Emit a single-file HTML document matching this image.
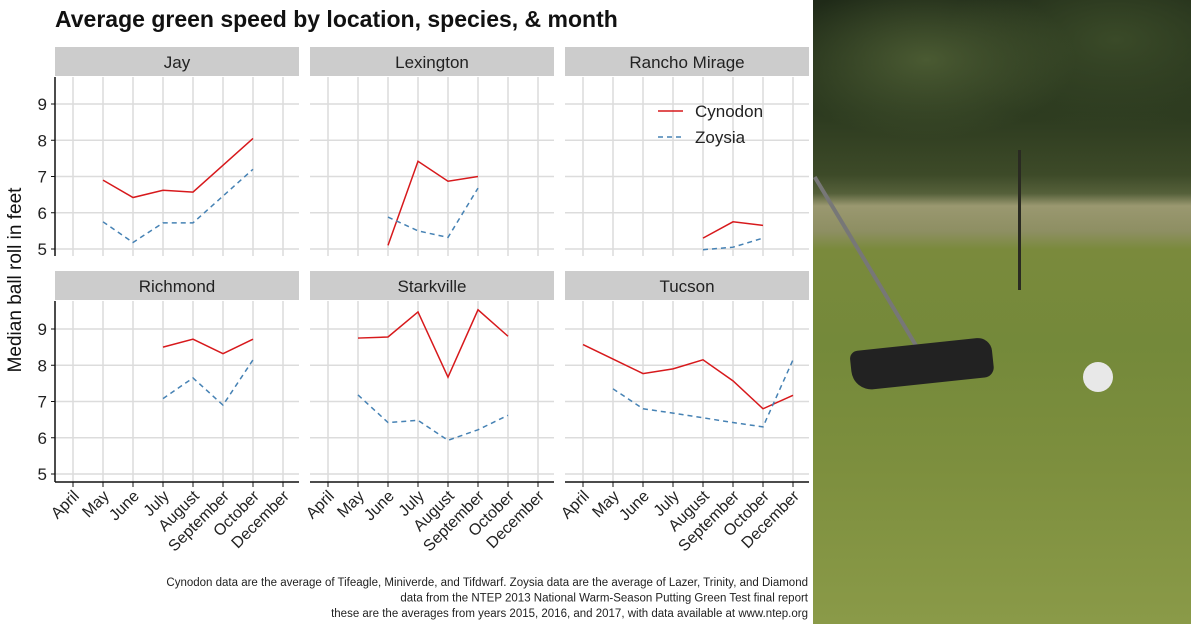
<!DOCTYPE html>
<html><head><meta charset="utf-8"><style>
body{margin:0;width:1191px;height:624px;overflow:hidden;background:#fff;font-family:"Liberation Sans",sans-serif}
#wrap{position:relative;width:1191px;height:624px}
svg{position:absolute;left:0;top:0}
</style></head><body><div id="wrap">
<div style="position:absolute;left:813px;top:0;width:378px;height:624px;background:linear-gradient(180deg,#1f2a18 0%,#2c3a1f 18%,#3d4a28 28%,#55603a 31%,#9a9870 33%,#8e8f63 37%,#7a8a3c 40%,#74893a 55%,#7d8f3e 75%,#8a9a48 100%)">
<div style="position:absolute;left:0;top:0;width:378px;height:200px;background:radial-gradient(ellipse at 30% 30%,#4a5a32 0%,rgba(0,0,0,0) 40%),radial-gradient(ellipse at 80% 20%,#3a4a28 0%,rgba(0,0,0,0) 40%)"></div>
<div style="position:absolute;left:205px;top:150px;width:3px;height:140px;background:#2a2a22"></div>
<div style="position:absolute;left:0;top:178px;width:4px;height:200px;background:#777;transform-origin:0 0;transform:rotate(-31deg)"></div>
<div style="position:absolute;left:38px;top:344px;width:142px;height:40px;background:#222;border-radius:8px 14px 10px 20px;transform:rotate(-6deg)"></div>
<div style="position:absolute;left:270px;top:362px;width:30px;height:30px;border-radius:50%;background:#e8e8e8"></div>
</div>
<svg id="chart" width="813" height="624"></svg>
</div>
<script>
const months=["April","May","June","July","August","September","October","December"];
const panels=["Jay","Lexington","Rancho Mirage","Richmond","Starkville","Tucson"];
const yTicks=[5,6,7,8,9];
const cynJay=[null,6.9,6.42,6.62,6.57,null,8.05,null];
const zoyJay=[null,5.75,5.18,5.72,5.72,null,7.2,null];
const cynLex=[null,null,5.1,7.42,6.87,7.0,null,null];
const zoyLex=[null,null,5.88,5.5,5.32,6.68,null,null];
const cynRan=[null,null,null,null,5.3,5.75,5.65,null];
const zoyRan=[null,null,null,null,4.98,5.05,5.3,null];
const cynRic=[null,null,null,8.5,8.72,8.32,8.72,null];
const zoyRic=[null,null,null,7.08,7.65,6.9,8.15,null];
const cynSta=[null,8.75,8.78,9.47,7.67,9.53,8.8,null];
const zoySta=[null,7.18,6.42,6.48,5.93,6.22,6.62,null];
const cynTuc=[8.57,8.17,7.77,7.9,8.15,7.57,6.8,7.17];
const zoyTuc=[null,7.35,6.8,6.68,6.55,6.42,6.3,8.15];
const cyn=[cynJay,cynLex,cynRan,cynRic,cynSta,cynTuc];
const zoy=[zoyJay,zoyLex,zoyRan,zoyRic,zoySta,zoyTuc];
const svg=document.getElementById('chart');const NS='http://www.w3.org/2000/svg';
function mk(t,a,p){const e=document.createElementNS(NS,t);for(const k in a)e.setAttribute(k,a[k]);(p||svg).appendChild(e);return e;}
function txt(s,a,p){const e=mk('text',a,p);e.textContent=s;return e;}
const t=txt('Average green speed by location, species, & month',{x:55,y:27,'font-size':23,fill:'#111','font-weight':'bold'});

const yl=txt('Median ball roll in feet',{x:0,y:0,'font-size':19,fill:'#111','text-anchor':'middle',transform:'translate(21,280) rotate(-90)'});

panels.forEach((name,i)=>{
  const col=i%3,row=Math.floor(i/3);
  const x0=55+col*255,top=row?301:77,bot=row?482:256;
  const ymap=v=>(row?329:104)+(9-v)*36.25;
  const xmap=j=>73+col*255+j*30;
  const g=mk('g',{});
  
  
  const st=mk('rect',{x:x0,y:top-30,width:244,height:29,fill:'#cccccc'},g);
  
  txt(name,{x:x0+122,y:top-9,'font-size':17,fill:'#222','text-anchor':'middle'},g);
  months.forEach((m,j)=>mk('line',{x1:xmap(j),x2:xmap(j),y1:top,y2:bot,stroke:'#dcdcdc','stroke-width':1.5},g));
  yTicks.forEach(v=>mk('line',{x1:x0,x2:x0+244,y1:ymap(v),y2:ymap(v),stroke:'#dcdcdc','stroke-width':1.5},g));
  if(col==0){mk('line',{x1:x0,x2:x0,y1:top,y2:bot,stroke:'#111','stroke-width':1.5},g);
    yTicks.forEach(v=>{mk('line',{x1:x0-4,x2:x0,y1:ymap(v),y2:ymap(v),stroke:'#111'},g);
      txt(v,{x:x0-8,y:ymap(v)+6,'font-size':17,fill:'#222','text-anchor':'end'},g);});}
  if(row==1){mk('line',{x1:x0,x2:x0+244,y1:bot,y2:bot,stroke:'#111','stroke-width':1.5},g);
    months.forEach((m,j)=>{mk('line',{x1:xmap(j),x2:xmap(j),y1:bot,y2:bot+5,stroke:'#111'},g);
      txt(m,{x:0,y:0,'font-size':16,fill:'#222','text-anchor':'end',transform:`translate(${xmap(j)+7},${bot+15}) rotate(-45)`},g);});}
  [[cyn[i],'#d7191c',null,'cynodon'],[zoy[i],'#4682b4','5,4','zoysia']].forEach(([arr,c,d,n])=>{
    const pts=[];arr.forEach((v,j)=>{if(v!=null)pts.push(xmap(j)+','+ymap(v));});
    const a={points:pts.join(' '),fill:'none',stroke:c,'stroke-width':1.5};if(d)a['stroke-dasharray']=d;
    const l=mk('polyline',a,g);
  });
});
const lg=mk('g',{});
mk('line',{x1:658,x2:683,y1:111,y2:111,stroke:'#d7191c','stroke-width':1.5},lg);
txt('Cynodon',{x:695,y:117,'font-size':17,fill:'#222'},lg);
mk('line',{x1:658,x2:683,y1:137,y2:137,stroke:'#4682b4','stroke-width':1.5,'stroke-dasharray':'5,4'},lg);
txt('Zoysia',{x:695,y:143,'font-size':17,fill:'#222'},lg);
const cap=mk('g',{});
['Cynodon data are the average of Tifeagle, Miniverde, and Tifdwarf. Zoysia data are the average of Lazer, Trinity, and Diamond','data from the NTEP 2013 National Warm-Season Putting Green Test final report','these are the averages from years 2015, 2016, and 2017, with data available at www.ntep.org'].forEach((s,k)=>txt(s,{x:808,y:586+k*15.5,'font-size':11.5,fill:'#222','text-anchor':'end'},cap));
</script></body></html>
